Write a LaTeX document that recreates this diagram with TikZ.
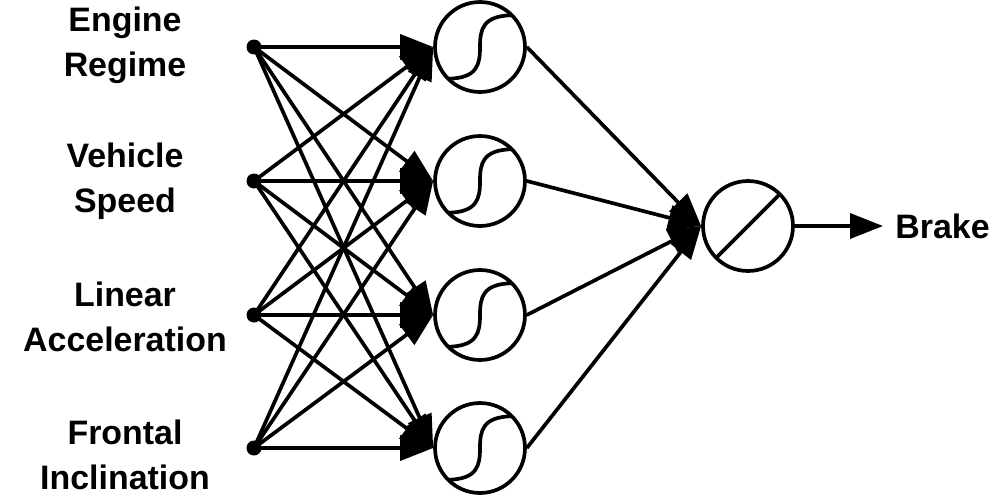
\documentclass[tikz,border=0pt]{standalone}
\usepackage{fontspec}
\setmainfont{Liberation Sans}
\usetikzlibrary{arrows.meta}

\begin{document}
\begin{tikzpicture}[
  x=0.02cm, y=-0.02cm,
  line width=2.1pt,
  label/.style={align=center, font=\fontsize{19.3}{25.6}\selectfont\bfseries},
  dot/.style={circle, fill, inner sep=0pt, minimum size=0.3cm},
  neuron/.style={circle, draw, inner sep=0pt, minimum size=1.8cm},
  sigmoid/.style={neuron, path picture={
    \draw[shift={(path picture bounding box.center)}]
      (-0.636cm,-0.636cm) .. controls (-0.05cm,-0.62cm) and (0cm,-0.35cm) .. (0cm,0cm)
      .. controls (0cm,0.35cm) and (0.05cm,0.62cm) .. (0.636cm,0.636cm);}},
  linear/.style={neuron, path picture={
    \draw[shift={(path picture bounding box.center)}] (225:0.9cm) -- (45:0.9cm);}},
  arrow/.style={-{Triangle[length=0.66cm, width=0.5cm]}}
]
  \useasboundingbox (0,0) rectangle (1000,497);

  % inputs
  \node[label] (l1) at (125,45) {Engine\\Regime};
  \node[label] (l2) at (125,181) {Vehicle\\Speed};
  \node[label] (l3) at (125,317) {Linear\\Acceleration};
  \node[label] (l4) at (125,455) {Frontal\\Inclination};

  \node[dot] (in1) at (254,47) {};
  \node[dot] (in2) at (254,181) {};
  \node[dot] (in3) at (254,315) {};
  \node[dot] (in4) at (254,448) {};

  % hidden layer
  \node[sigmoid] (h1) at (480,47) {};
  \node[sigmoid] (h2) at (480,181) {};
  \node[sigmoid] (h3) at (480,315) {};
  \node[sigmoid] (h4) at (480,448) {};

  % output
  \node[linear] (out) at (748,226) {};
  \coordinate (tip) at (883,226);
  \node[label, anchor=west, inner sep=6pt] (brake) at (tip) {Brake};

  \foreach \i in {1,...,4}
    \foreach \j in {1,...,4}
      \draw[arrow] (in\i.center) -- (h\j.west);
  \foreach \j in {1,...,4}
    \draw[arrow] (h\j.east) -- (out.west);
  \draw[arrow] (out.east) -- (tip);
\end{tikzpicture}
\end{document}
